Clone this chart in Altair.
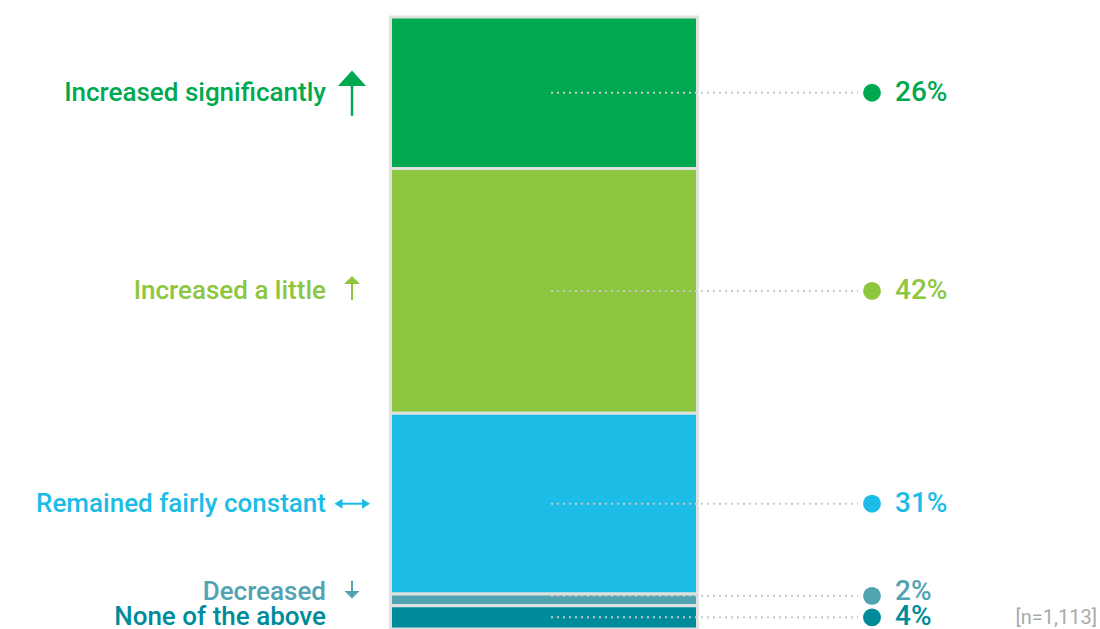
import altair as alt
import pandas as pd

categories = ["Increased significantly", "Increased a little", "Remained fairly constant",
              "Decreased", "None of the above"]
values = [26, 42, 31, 2, 4]
pct_labels = ["26%", "42%", "31%", "2%", "4%"]
colors = ["#00a94f", "#8dc63f", "#1cbce6", "#50a3b0", "#008b9b"]
sample_note = ["[n=1,113]"]

ends = list(pd.Series(values).cumsum())
starts = [e - v for e, v in zip(ends, values)]
mids = [(s + e) / 2 for s, e in zip(starts, ends)]
df = pd.DataFrame({"category": categories, "value": values, "start": starts,
                   "end": ends, "mid": mids, "pct": pct_labels})
total = sum(values)

FONT = "Roboto"
yscale = alt.Scale(domain=[0, total], reverse=True, nice=False, zero=False)
cscale = alt.Scale(domain=categories, range=colors)
Y = lambda f: alt.Y(f"{f}:Q", scale=yscale, axis=None)
C = alt.Color("category:N", scale=cscale, legend=None)

base = alt.Chart(df)

bars = base.mark_rect(stroke="#dfe2df", strokeWidth=3).encode(
    x=alt.value(390.5), x2=alt.value(697.5), y=Y("start"), y2="end:Q", color=C)

def labels(sub, dy, mark_dy):
    s = alt.Chart(df).transform_filter(alt.FieldOneOfPredicate(field="category", oneOf=sub))
    leader = s.mark_rule(strokeDash=[2, 4], color="#c9c9c9", strokeWidth=2,
                         yOffset=mark_dy).encode(
        x=alt.value(551), x2=alt.value(858), y=Y("mid"))
    dot = s.mark_circle(size=320, opacity=1, yOffset=mark_dy).encode(
        x=alt.value(872), y=Y("mid"), color=C)
    pct = s.mark_text(align="left", baseline="middle", fontSize=28, font=FONT,
                      fontWeight=500, dy=dy).encode(
        x=alt.value(895), y=Y("mid"), text="pct:N", color=C)
    cat = s.mark_text(align="right", baseline="middle", fontSize=26, font=FONT,
                      fontWeight=500, dy=dy).encode(
        x=alt.value(326), y=Y("mid"), text="category:N", color=C)
    return [leader, dot, pct, cat]

main_rows = [c for c in categories if c != "Decreased"]
lab_layers = labels(main_rows, 0, 0) + labels(["Decreased"], -8, -4)

def row(cat):
    return alt.Chart(df).transform_filter(alt.datum.category == cat)

# arrows
a1 = row(categories[0])
arr_big = [
    a1.mark_rule(strokeWidth=2.5, yOffset=-18, y2Offset=23).encode(
        x=alt.value(352), y=Y("mid"), y2="mid:Q", color=C),
    a1.mark_point(shape="M-1,0.55L0,-0.55L1,0.55Z", size=784, filled=True, opacity=1,
                  yOffset=-14.5).encode(x=alt.value(352), y=Y("mid"), color=C),
]
a2 = row(categories[1])
arr_small = [
    a2.mark_rule(strokeWidth=2, yOffset=-13, y2Offset=9).encode(
        x=alt.value(352), y=Y("mid"), y2="mid:Q", color=C),
    a2.mark_point(shape="M-1,0.5L0,-0.5L1,0.5Z", size=256, filled=True, opacity=1,
                  yOffset=-11).encode(x=alt.value(352), y=Y("mid"), color=C),
]
a3 = row(categories[2])
arr_both = [
    a3.mark_rule(strokeWidth=2).encode(x=alt.value(337), x2=alt.value(367), y=Y("mid"), color=C),
    a3.mark_point(shape="M0.8,-1L-0.8,0L0.8,1Z", size=100, filled=True, opacity=1).encode(
        x=alt.value(338.5), y=Y("mid"), color=C),
    a3.mark_point(shape="M-0.8,-1L0.8,0L-0.8,1Z", size=100, filled=True, opacity=1).encode(
        x=alt.value(366), y=Y("mid"), color=C),
]
a4 = row(categories[3])
arr_down = [
    a4.mark_rule(strokeWidth=2, yOffset=-19, y2Offset=-5).encode(
        x=alt.value(352), y=Y("mid"), y2="mid:Q", color=C),
    a4.mark_point(shape="M-1,-0.5L0,0.5L1,-0.5Z", size=225, filled=True, opacity=1,
                  yOffset=-5).encode(x=alt.value(352), y=Y("mid"), color=C),
]

note = alt.Chart(pd.DataFrame({"note": sample_note})).mark_text(
    align="right", baseline="middle", fontSize=20, font=FONT, color="#aaaaaa").encode(
    x=alt.value(1097), y=alt.value(601), text="note:N")

chart = alt.layer(bars, *lab_layers, *arr_big, *arr_small, *arr_both,
                  *arr_down, note).properties(
    width=1100, height=612,
    autosize=alt.AutoSizeParams(type="none"),
    padding={"left": 0, "top": 17, "right": 0, "bottom": 0},
).configure_view(strokeWidth=0)

chart.save("out.html", embed_options={"renderer": "svg", "actions": False})
